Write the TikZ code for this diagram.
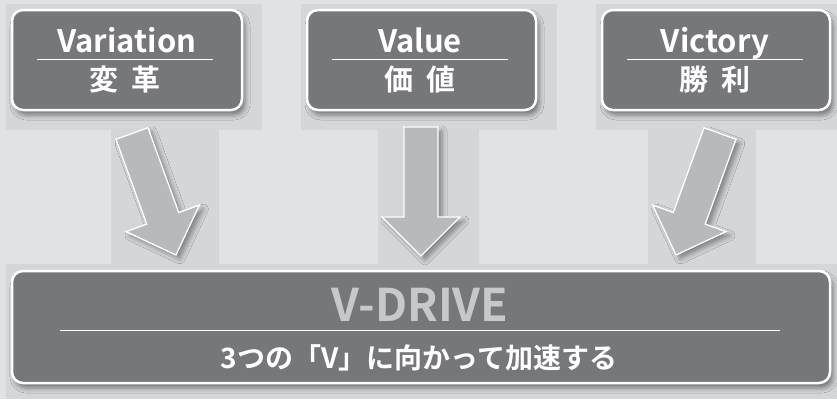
\documentclass[tikz,border=0pt]{standalone}
\usepackage{fontspec}
\newfontfamily\jpfont{Noto Sans CJK JP Bold}
\usetikzlibrary{calc,shadows.blur}
\definecolor{bgcol}{HTML}{E1E2E4}
\definecolor{panelcol}{HTML}{D5D6D8}
\definecolor{cardcol}{HTML}{76777B}
\definecolor{arrowcol}{HTML}{B8B9BC}
\definecolor{drivecol}{HTML}{C7C8CA}
\tikzset{
  card/.style={draw=white,line width=2.5pt,fill=cardcol,rounded corners=11pt,
    blur shadow={shadow xshift=3pt,shadow yshift=-5pt,shadow opacity=45,shadow blur radius=5pt}},
  fatarrow/.style={draw=white,line width=1.3pt,fill=arrowcol,line join=miter,
    blur shadow={shadow xshift=4pt,shadow yshift=-4pt,shadow opacity=40,shadow blur radius=5pt}},
  sep/.style={draw=white,line width=0.8pt},
  txt/.style={text=white,anchor=base,inner sep=0pt},
  title/.style={txt,font=\jpfont\fontsize{31}{31}\selectfont},
  kanji/.style={txt,font=\jpfont\fontsize{29}{29}\selectfont},
  drive/.style={txt,text=drivecol,font=\jpfont\fontsize{45}{45}\selectfont},
  motto/.style={txt,font=\jpfont\fontsize{28}{28}\selectfont}
}
\newcommand\fatarrow[2]{%
  \coordinate (#1-h) at ($(#2)!39pt!(#1)$);
  \draw[fatarrow] ($(#1)!17pt!90:(#2)$) -- ($(#1-h)!17pt!90:(#2)$) -- ($(#1-h)!39pt!90:(#2)$)
    -- (#2) -- ($(#1-h)!39pt!-90:(#2)$) -- ($(#1-h)!17pt!-90:(#2)$) -- ($(#1)!17pt!-90:(#2)$) -- cycle;}
\begin{document}
\begin{tikzpicture}[x=1pt,y=-1pt]
  \fill[bgcol] (0,0) rectangle (837,399);
  \useasboundingbox (0,0) rectangle (837,399);
  \fill[panelcol] (6,4) rectangle (262,130);
  \fill[panelcol] (301,4) rectangle (557,130);
  \fill[panelcol] (596,4) rectangle (837,130);
  \fill[panelcol] (6,264) rectangle (837,399);
  \fill[panelcol] (111,123) rectangle (219,273);
  \fill[panelcol] (378,123) rectangle (479,273);
  \fill[panelcol] (648,123) rectangle (756,273);

  \coordinate (t1) at (132,133.5);
  \coordinate (p1) at (176,255);
  \coordinate (t2) at (421,127);
  \coordinate (p2) at (421,256);
  \coordinate (t3) at (720,133.5);
  \coordinate (p3) at (676,255);
  \fatarrow{t1}{p1}
  \fatarrow{t2}{p2}
  \fatarrow{t3}{p3}

  \node[card,minimum width=230pt,minimum height=100pt] (var) at (127,60) {};
  \node[card,minimum width=229pt,minimum height=100pt] (val) at (421.5,60) {};
  \node[card,minimum width=228pt,minimum height=100pt] (vic) at (716,60) {};
  \node[card,minimum width=818pt,minimum height=112pt] (drv) at (421,327) {};

  \node[title] (var-en) at (127,52) {Variation};
  \node[kanji] (var-jp) at (125,90) {変\hspace{.45em}革};
  \draw[sep] (37,59) -- (213,59);
  \node[title] (val-en) at (420,52) {Value};
  \node[kanji] (val-jp) at (420,90) {価\hspace{.45em}値};
  \draw[sep] (332,59) -- (508,59);
  \node[title] (vic-en) at (715,52) {Victory};
  \node[kanji] (vic-jp) at (715,90) {勝\hspace{.45em}利};
  \draw[sep] (627,59) -- (803,59);

  \node[drive] (drv-en) at (420,321) {V-DRIVE};
  \draw[sep] (60,330) -- (780,330);
  \node[motto] (drv-jp) at (419,368) {3つの「V」に向かって加速する};
\end{tikzpicture}
\end{document}
